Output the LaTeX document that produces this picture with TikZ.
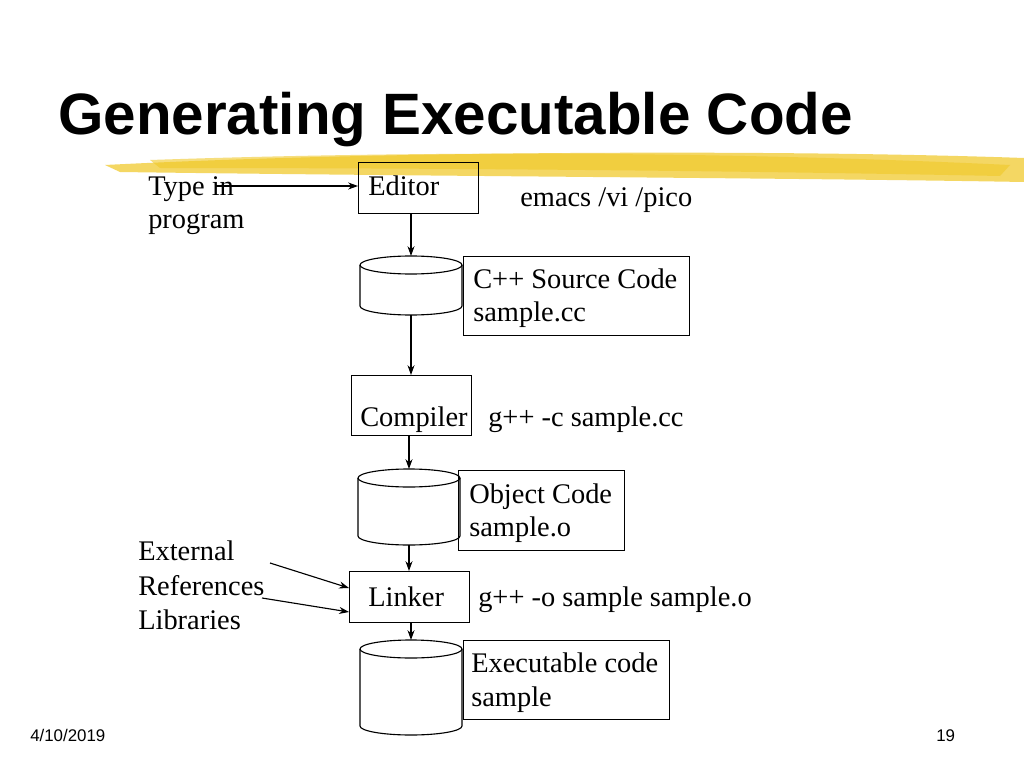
\documentclass[tikz,border=0pt]{standalone}
\usepackage{fontspec}
\setmainfont{Liberation Serif}
\setsansfont{Liberation Sans}
\usetikzlibrary{arrows.meta,positioning}
\definecolor{brush}{RGB}{240,200,40}
\tikzset{>={Stealth[length=7pt,width=5pt]},
  box/.style={draw,thick,anchor=north west,inner sep=0pt},
  lbl/.style={font=\fontsize{20.2}{23}\selectfont,inner sep=0pt,anchor=base west},
  flow/.style={->,thick}}
% store drum: left x, top y, right x, bottom y, name
\newcommand\drum[5]{%
  \draw[thick] (#1,#2) -- (#1,#4) arc[start angle=180,end angle=0,x radius={(#3-#1)/2},y radius=9]
    -- (#3,#2);
  \draw[thick] ({(#1+#3)/2},#2) ellipse[x radius={(#3-#1)/2},y radius=9];
  \coordinate (#5-top) at ({(#1+#3)/2},{#2-9});
  \coordinate (#5-bot) at ({(#1+#3)/2},{#4+9});}
\begin{document}
\begin{tikzpicture}[x=0.025cm,y=-0.025cm]
  \useasboundingbox[fill=white] (0,0) rectangle (1024,768);
  % brush stroke under the title
  \fill[brush!80,opacity=0.9] (105,165) .. controls (400,150) and (800,150) .. (1024,158)
    -- (1024,182) .. controls (800,178) and (400,176) .. (120,172) -- cycle;
  \fill[brush,opacity=0.6] (150,160) .. controls (500,148) and (800,155) .. (1010,165)
    -- (1000,176) .. controls (700,170) and (400,168) .. (160,168) -- cycle;
  \node[anchor=base west,inner sep=0pt,font=\sffamily\bfseries\fontsize{41.5}{48}\selectfont]
    (title) at (58,135) {Generating Executable Code};
  % boxes and stores
  \node[box,minimum width=3cm,minimum height=1.275cm] (editor) at (358,162) {};
  \node[lbl] at (368,195) {Editor};
  \drum{360}{265}{462}{306}{src}
  \node[box,minimum width=5.65cm,minimum height=1.975cm] (srcbox) at (463,256) {};
  \node[lbl] at (473,288) {C++ Source Code};
  \node[lbl] at (473,321) {sample.cc};
  \node[box,minimum width=3cm,minimum height=1.5cm] (compiler) at (351,375) {};
  \node[lbl] at (360,426) {Compiler};
  \drum{358}{478}{460}{536}{obj}
  \node[box,minimum width=4.15cm,minimum height=2cm] (objbox) at (458,470) {};
  \node[lbl] at (469,503) {Object Code};
  \node[lbl] at (469,536) {sample.o};
  \node[box,minimum width=3cm,minimum height=1.275cm] (linker) at (349,571) {};
  \node[lbl] at (368,606) {Linker};
  \drum{360}{649}{462}{726}{exe}
  \node[box,minimum width=5.15cm,minimum height=1.975cm] (exebox) at (463,640) {};
  \node[lbl] at (471,672) {Executable code};
  \node[lbl] at (471,706) {sample};
  % side texts
  \node[lbl] (typein) at (148,195) {Type in};
  \node[lbl] at (148,228) {program};
  \node[lbl] at (520,206) {emacs /vi /pico};
  \node[lbl] at (488,426) {g++ -c sample.cc};
  \node[lbl] at (478,606) {g++ -o sample sample.o};
  \node[lbl] (extern) at (138,560) {External};
  \node[lbl] at (138,595) {References};
  \node[lbl] at (138,629) {Libraries};
  \coordinate (inA) at (215,186);
  \coordinate (inB) at (270,563);
  \coordinate (inC) at (262,598);
  % connectors
  \draw[flow] (inA) -- (editor.west |- inA);
  \draw[flow] (editor.south -| src-top) -- (src-top);
  \draw[flow] (src-bot) -- (src-bot |- compiler.north);
  \draw[flow] (compiler.south -| obj-top) -- (obj-top);
  \draw[flow] (obj-bot) -- (obj-bot |- linker.north);
  \draw[flow] (inB) -- (linker.west |- 0,588);
  \draw[flow] (inC) -- (linker.west |- 0,612);
  \draw[flow] (linker.south -| exe-top) -- (exe-top);
  % footer
  \node[anchor=base west,inner sep=0pt,font=\sffamily\fontsize{12}{14}\selectfont] at (30,741) {4/10/2019};
  \node[anchor=base west,inner sep=0pt,font=\sffamily\fontsize{12}{14}\selectfont] at (936,741) {19};
\end{tikzpicture}
\end{document}
